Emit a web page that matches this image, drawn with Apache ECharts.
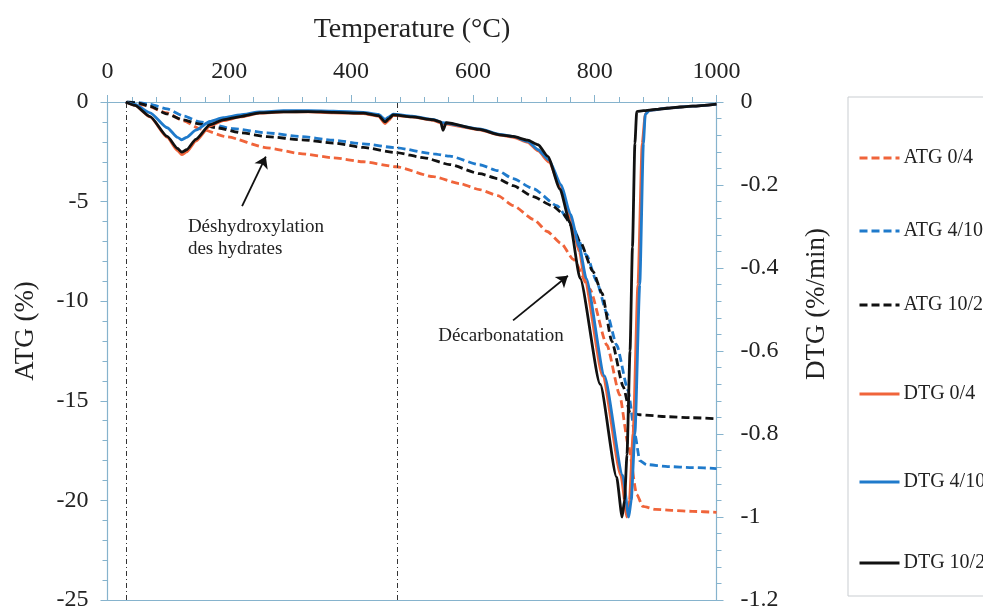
<!DOCTYPE html>
<html>
<head>
<meta charset="utf-8">
<script src="https://cdn.jsdelivr.net/npm/echarts@6/dist/echarts.min.js"></script>
<style>
  html, body { margin: 0; padding: 0; background: #fff; }
  #chart { width: 983px; height: 612px; }
</style>
</head>
<body>
<div id="chart"></div>
<script>
// ATG curves (mass loss, %), left axis
const atgTemp04 = [32, 60, 98, 125, 152, 196, 262, 320, 371, 420, 474, 535, 579, 611, 641, 666, 700, 722, 745, 765, 792, 820, 841, 855, 869, 879, 900, 928, 960, 1000];
const atg04 = [0, -0.15, -0.55, -0.95, -1.35, -1.75, -2.3, -2.6, -2.8, -3.0, -3.25, -3.75, -4.1, -4.4, -4.7, -5.2, -5.9, -6.5, -7.1, -7.9, -9.4, -12.2, -14.7, -17.2, -19.7, -20.3, -20.45, -20.5, -20.55, -20.6];

const atgTemp410 = [32, 50, 70, 98, 125, 152, 207, 262, 316, 371, 420, 474, 535, 562, 611, 641, 666, 699, 738, 759, 787, 803, 820, 836, 855, 866, 874, 885, 920, 960, 1000];
const atg410 = [0, -0.03, -0.12, -0.35, -0.7, -1.0, -1.34, -1.55, -1.73, -1.92, -2.1, -2.3, -2.6, -2.72, -3.15, -3.45, -3.85, -4.35, -5.2, -6.0, -7.7, -9.0, -10.6, -12.2, -14.5, -16.7, -18.0, -18.2, -18.3, -18.35, -18.4];

const atgTemp1020 = [32, 50, 70, 98, 124, 150, 180, 220, 262, 320, 371, 420, 474, 520, 562, 611, 641, 666, 699, 730, 748, 762, 776, 797, 812, 828, 847, 858, 874, 920, 960, 1000];
const atg1020 = [0, -0.05, -0.22, -0.6, -0.9, -1.1, -1.3, -1.55, -1.74, -1.9, -2.06, -2.28, -2.54, -2.8, -3.14, -3.6, -3.85, -4.2, -4.75, -5.2, -5.6, -6.2, -7.0, -8.5, -9.6, -12.0, -14.3, -15.6, -15.7, -15.8, -15.85, -15.9];

// DTG curves (%/min), right axis
const dtgTemp04 = [30, 45, 70, 98, 115, 122, 130, 145, 168, 190, 218, 250, 289, 330, 371, 420, 445, 456, 462, 469, 500, 535, 550, 611, 644, 666, 690, 707, 725, 745, 760, 775, 783, 813, 843, 853, 857, 863, 871, 878, 883, 888, 919, 961, 1000];
const dtg04 = [0, -0.008, -0.036, -0.085, -0.117, -0.127, -0.12, -0.094, -0.058, -0.045, -0.036, -0.027, -0.024, -0.024, -0.026, -0.028, -0.034, -0.052, -0.044, -0.032, -0.036, -0.044, -0.052, -0.067, -0.08, -0.085, -0.097, -0.118, -0.145, -0.21, -0.28, -0.36, -0.425, -0.66, -0.9, -1.0, -0.96, -0.8, -0.44, -0.1, -0.03, -0.02, -0.015, -0.01, -0.005];

const dtgTemp410 = [30, 45, 70, 98, 115, 122, 130, 145, 168, 190, 218, 250, 289, 330, 371, 420, 445, 456, 462, 469, 500, 535, 550, 611, 644, 666, 690, 707, 725, 745, 760, 775, 786, 816, 846, 856, 860, 866, 874, 880, 883, 890, 919, 961, 1000];
const dtg410 = [0, -0.006, -0.026, -0.062, -0.085, -0.091, -0.085, -0.068, -0.047, -0.038, -0.031, -0.024, -0.021, -0.021, -0.022, -0.025, -0.03, -0.042, -0.036, -0.029, -0.034, -0.042, -0.05, -0.065, -0.078, -0.083, -0.095, -0.115, -0.14, -0.2, -0.27, -0.35, -0.425, -0.66, -0.9, -1.0, -0.96, -0.8, -0.44, -0.1, -0.03, -0.02, -0.015, -0.01, -0.005];

const dtgTemp1020 = [30, 45, 70, 98, 115, 122, 130, 145, 168, 190, 218, 250, 289, 330, 371, 420, 445, 456, 462, 469, 500, 535, 547, 551, 556, 611, 644, 666, 690, 707, 723, 743, 759, 776, 809, 836, 845, 849, 853, 858, 862, 866, 869, 880, 900, 919, 940, 961, 1000];
const dtg1020 = [0, -0.008, -0.035, -0.083, -0.112, -0.121, -0.115, -0.09, -0.055, -0.043, -0.035, -0.026, -0.024, -0.023, -0.025, -0.027, -0.033, -0.048, -0.04, -0.031, -0.036, -0.043, -0.048, -0.068, -0.05, -0.066, -0.079, -0.083, -0.092, -0.103, -0.131, -0.21, -0.29, -0.425, -0.68, -0.904, -1.0, -0.96, -0.85, -0.6, -0.35, -0.1, -0.023, -0.021, -0.018, -0.015, -0.012, -0.01, -0.005];

// reference lines and annotations
const markTemps = [31, 475];
const arrowHydrates = [[221, -5.23], [260, -2.74]];
const arrowCarbo = [[666, -10.96], [756, -8.72]];
const labelHydrates = [132, -5.7];
const labelCarbo = [543, -11.2];

const seriesNames = ['ATG 0/4', 'ATG 4/10', 'ATG 10/20', 'DTG 0/4', 'DTG 4/10', 'DTG 10/20'];

function pairs(xs, ys) {
    return xs.map(function (x, i) { return [x, ys[i]]; });
}

const RED = '#f0643a';
const BLUE = '#1f7acb';
const BLACK = '#111111';
const AXIS = '#86b3cd';
const FONT = 'Liberation Serif';

var myChart = echarts.init(document.getElementById('chart'));

function line(name, data, color, dashed, yIdx, z) {
    return {
        name: name,
        type: 'line',
        data: data,
        xAxisIndex: 0,
        yAxisIndex: yIdx,
        symbol: 'none',
        smooth: 0.2,
        smoothMonotone: 'x',
        z: z,
        lineStyle: { color: color, width: 2.8, type: dashed ? [8, 4] : 'solid' },
        itemStyle: { color: color }
    };
}

const legendTops = [143, 216, 290, 379, 467, 548];

myChart.setOption({
    animation: false,
    backgroundColor: '#fff',
    textStyle: { fontFamily: FONT, color: '#222' },
    grid: { left: 107.5, right: 266.5, top: 102, bottom: 8 },
    legend: seriesNames.map(function (n, i) {
        return {
            data: [n],
            left: 853,
            top: legendTops[i],
            itemWidth: 40,
            itemHeight: 14,
            itemGap: 0,
            itemStyle: { opacity: 0 },
            lineStyle: { width: 3 },
            textStyle: { fontFamily: FONT, fontSize: 20, color: '#222', padding: [0, 0, 0, -1] }
        };
    }),
    xAxis: [
        {
            type: 'value',
            position: 'top',
            min: 0,
            max: 1000,
            interval: 200,
            name: 'Temperature (°C)',
            nameLocation: 'middle',
            nameGap: 58,
            nameTextStyle: { fontFamily: FONT, fontSize: 28, color: '#222' },
            axisLine: { onZero: false, lineStyle: { color: AXIS, width: 1.2 } },
            axisTick: { length: 7, lineStyle: { color: AXIS } },
            minorTick: { show: true, splitNumber: 5, length: 5, lineStyle: { color: AXIS } },
            axisLabel: { margin: 18, fontFamily: FONT, fontSize: 24, color: '#222', formatter: function (v) { return String(v); } },
            splitLine: { show: false }
        },
        {
            type: 'value',
            position: 'bottom',
            min: 0,
            max: 1000,
            axisLine: { onZero: false, lineStyle: { color: AXIS, width: 1.2 } },
            axisTick: { show: false },
            axisLabel: { show: false },
            splitLine: { show: false }
        }
    ],
    yAxis: [
        {
            type: 'value',
            position: 'left',
            min: -25,
            max: 0,
            interval: 5,
            axisLine: { show: true, onZero: false, lineStyle: { color: AXIS, width: 1.2 } },
            axisTick: { show: true, length: 7, lineStyle: { color: AXIS } },
            minorTick: { show: true, splitNumber: 5, length: 5, lineStyle: { color: AXIS } },
            axisLabel: { margin: 19, fontFamily: FONT, fontSize: 24, color: '#222' },
            splitLine: { show: false }
        },
        {
            type: 'value',
            position: 'right',
            min: -1.2,
            max: 0,
            interval: 0.2,
            axisLine: { show: true, onZero: false, lineStyle: { color: AXIS, width: 1.2 } },
            axisTick: { show: true, length: 7, lineStyle: { color: AXIS } },
            minorTick: { show: true, splitNumber: 5, length: 5, lineStyle: { color: AXIS } },
            axisLabel: { margin: 24, fontFamily: FONT, fontSize: 24, color: '#222' },
            splitLine: { show: false }
        }
    ],
    graphic: [
        {
            type: 'rect',
            z: -1,
            shape: { x: 848, y: 97, width: 160, height: 499 },
            style: { fill: '#fff', stroke: '#c9cdd1', lineWidth: 1 }
        },
        {
            type: 'text',
            x: 26, y: 331, rotation: Math.PI / 2,
            style: { text: 'ATG (%)', font: '27px "Liberation Serif"', fill: '#222', textAlign: 'center', textVerticalAlign: 'middle' }
        },
        {
            type: 'text',
            x: 817, y: 304, rotation: Math.PI / 2,
            style: { text: 'DTG (%/min)', font: '27px "Liberation Serif"', fill: '#222', textAlign: 'center', textVerticalAlign: 'middle' }
        }
    ],
    series: [
        Object.assign(line('ATG 0/4', pairs(atgTemp04, atg04), RED, true, 0, 2), {
            markLine: {
                silent: true,
                symbol: 'none',
                label: { show: false },
                lineStyle: { color: '#333', width: 1, type: [5, 3, 1, 3] },
                data: markTemps.map(function (t) { return { xAxis: t }; })
            }
        }),
        Object.assign(line('ATG 4/10', pairs(atgTemp410, atg410), BLUE, true, 0, 2), {
            markLine: {
                silent: true,
                symbol: ['none', 'arrow'],
                symbolSize: 11,
                label: { show: false },
                lineStyle: { color: '#111', width: 1.8, type: 'solid' },
                data: [
                    [{ coord: arrowHydrates[0] }, { coord: arrowHydrates[1] }],
                    [{ coord: arrowCarbo[0] }, { coord: arrowCarbo[1] }]
                ]
            }
        }),
        Object.assign(line('ATG 10/20', pairs(atgTemp1020, atg1020), BLACK, true, 0, 2), {
            markPoint: {
                silent: true,
                symbol: 'circle',
                symbolSize: 0,
                label: {
                    show: true,
                    position: [0, 0],
                    align: 'left',
                    verticalAlign: 'top',
                    fontFamily: FONT,
                    fontSize: 19,
                    lineHeight: 22,
                    color: '#222'
                },
                data: [
                    { coord: labelHydrates, value: 'Déshydroxylation\ndes hydrates', label: { formatter: 'Déshydroxylation\ndes hydrates' } },
                    { coord: labelCarbo, value: 'Décarbonatation', label: { formatter: 'Décarbonatation' } }
                ]
            }
        }),
        line('DTG 0/4', pairs(dtgTemp04, dtg04), RED, false, 1, 3),
        line('DTG 4/10', pairs(dtgTemp410, dtg410), BLUE, false, 1, 4),
        line('DTG 10/20', pairs(dtgTemp1020, dtg1020), BLACK, false, 1, 5)
    ]
});
</script>
</body>
</html>
